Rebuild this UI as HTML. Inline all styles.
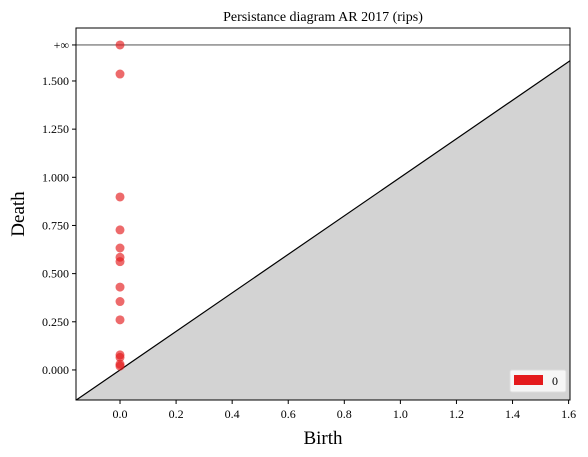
<!DOCTYPE html>
<html><head><meta charset="utf-8"><style>
html,body{margin:0;padding:0;background:#fff;}
svg{display:block;font-family:"Liberation Serif","DejaVu Serif",serif;}
</style></head><body>
<svg id="chart" width="588" height="457" viewBox="0 0 588 457" xmlns="http://www.w3.org/2000/svg"></svg>
<script>
const births = [0,0,0,0,0,0,0,0,0,0,0,0,0,0];
const deaths = [1.687,1.536,0.898,0.727,0.633,0.585,0.562,0.43,0.355,0.26,0.078,0.065,0.03,0.02];
const xTicks = [0.0,0.2,0.4,0.6,0.8,1.0,1.2,1.4,1.6];
const xTickLabels = ["0.0","0.2","0.4","0.6","0.8","1.0","1.2","1.4","1.6"];
const yTicks = [0,0.25,0.5,0.75,1.0,1.25,1.5];
const yTickLabels = ["0.000","0.250","0.500","0.750","1.000","1.250","1.500"];
const infValue = 1.687;
const xDomain = [-0.157,1.605];
const yDomain = [-0.156,1.775];

const L=76,R=570,T=28,B=400;
const sx=v=>L+(v-xDomain[0])/(xDomain[1]-xDomain[0])*(R-L);
const sy=v=>B-(v-yDomain[0])/(yDomain[1]-yDomain[0])*(B-T);
const NS="http://www.w3.org/2000/svg";
const svg=document.getElementById('chart');
function mk(tag,attrs,parent){const e=document.createElementNS(NS,tag);for(const k in attrs)e.setAttribute(k,attrs[k]);(parent||svg).appendChild(e);return e;}

// shaded region under diagonal
const shade=mk('polygon',{points:`${L},${B} ${R},${B} ${R},${sy(xDomain[1])} ${sx(yDomain[0])},${B}`,fill:'#d3d3d3'});


const diag=mk('line',{x1:sx(yDomain[0]),y1:sy(yDomain[0]),x2:R,y2:sy(xDomain[1]),stroke:'#000','stroke-width':1.2});


const inf=mk('line',{x1:L,y1:sy(infValue),x2:R,y2:sy(infValue),stroke:'#666','stroke-width':1.2});



// points
for(let i=0;i<deaths.length;i++){
  const c=mk('circle',{cx:sx(births[i]),cy:sy(deaths[i]),r:4.5,fill:'#e41a1c','fill-opacity':0.65});
  
  
}

// frame
const frame=mk('rect',{x:L,y:T,width:R-L,height:B-T,fill:'none',stroke:'#000','stroke-width':1});



// x ticks
xTicks.forEach((v,i)=>{
  const x=sx(v);
  const t=mk('line',{x1:x,y1:B,x2:x,y2:B+4,stroke:'#000'});
  
  
  const tx=mk('text',{x:x,y:B+18,'text-anchor':'middle','font-size':12});
  tx.textContent=xTickLabels[i];
  
  
});
// y ticks
yTicks.forEach((v,i)=>{
  const y=sy(v);
  const t=mk('line',{x1:L-4,y1:y,x2:L,y2:y,stroke:'#000'});
  
  
  const tx=mk('text',{x:L-7,y:y+4,'text-anchor':'end','font-size':12});
  tx.textContent=yTickLabels[i];
  
  
});
{
  const y=sy(infValue);
  const t=mk('line',{x1:L-4,y1:y,x2:L,y2:y,stroke:'#000'});
  
  
  const tx=mk('text',{x:L-7,y:y+4,'text-anchor':'end','font-size':12});
  tx.textContent='+∞';
  
  
}
</script>
<svg style="position:absolute;left:0;top:0" width="588" height="457" xmlns="http://www.w3.org/2000/svg" font-family="Liberation Serif, DejaVu Serif, serif">
<text x="323" y="21" text-anchor="middle" font-size="14">Persistance diagram AR 2017 (rips)</text>
<text x="323" y="444" text-anchor="middle" font-size="19">Birth</text>
<text x="24" y="214" text-anchor="middle" font-size="19" transform="rotate(-90 24 214)">Death</text>
<g>
<rect x="510" y="370" width="56" height="22" rx="2" fill="#fff" fill-opacity="0.8" stroke="#ddd"/>
<rect x="514" y="375" width="29" height="10" fill="#e41a1c"/>
<text x="552" y="385" font-size="12">0</text>
</g>
</svg>
</body></html>
